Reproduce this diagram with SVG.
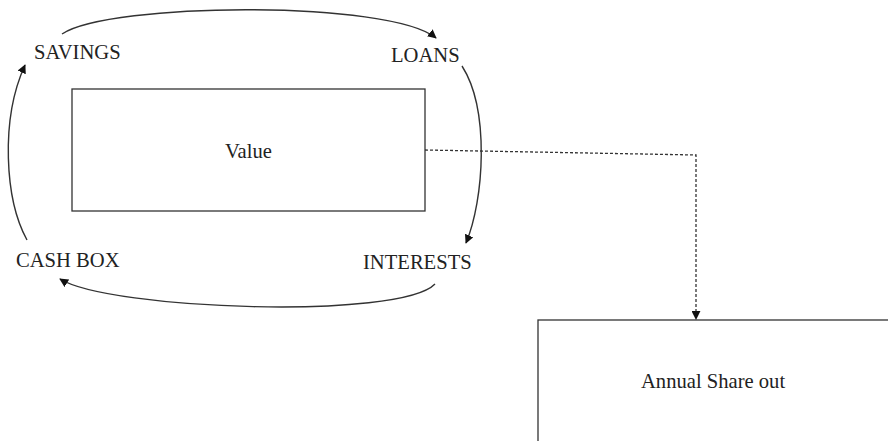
<svg xmlns="http://www.w3.org/2000/svg" width="888" height="441" viewBox="0 0 888 441">
<style>
text{font-family:"Liberation Serif","Times New Roman",serif;font-size:20.6px;fill:#222}
.box{fill:#fff;stroke:#333;stroke-width:1.3}
.arc{fill:none;stroke:#333;stroke-width:1.4}
.dot{fill:none;stroke:#333;stroke-width:1.3;stroke-dasharray:3,2}
</style>
<defs>
<marker id="ah" viewBox="0 0 10 10" refX="9" refY="5" markerWidth="9" markerHeight="9" markerUnits="userSpaceOnUse" orient="auto">
<path d="M0,0 L10,5 L0,10 z" fill="#111"/>
</marker>
</defs>
<rect width="888" height="441" fill="#fff"/>
<g id="value"><rect class="box" x="72" y="89" width="353" height="122"/><text x="225" y="158">Value</text></g>
<g id="annual"><rect class="box" x="538" y="320" width="360" height="140"/><text x="641" y="388">Annual Share out</text></g>
<g id="savings"><text x="34" y="59">SAVINGS</text></g>
<g id="loans"><text x="391" y="62">LOANS</text></g>
<g id="cashbox"><text x="16" y="267">CASH BOX</text></g>
<g id="interests"><text x="363" y="269">INTERESTS</text></g>
<g id="connectors">
<path class="arc" d="M62,34 C110,2 390,0 436,38" marker-end="url(#ah)"/>
<path class="arc" d="M462,66 C490,110 484,200 466,243" marker-end="url(#ah)"/>
<path class="arc" d="M435,284 C400,320 110,310 60,279" marker-end="url(#ah)"/>
<path class="arc" d="M27,240 C5,200 0,120 25,65" marker-end="url(#ah)"/>
<path class="dot" d="M425,150 L696,155 L696,319" marker-end="url(#ah)"/>
</g>
</svg>
